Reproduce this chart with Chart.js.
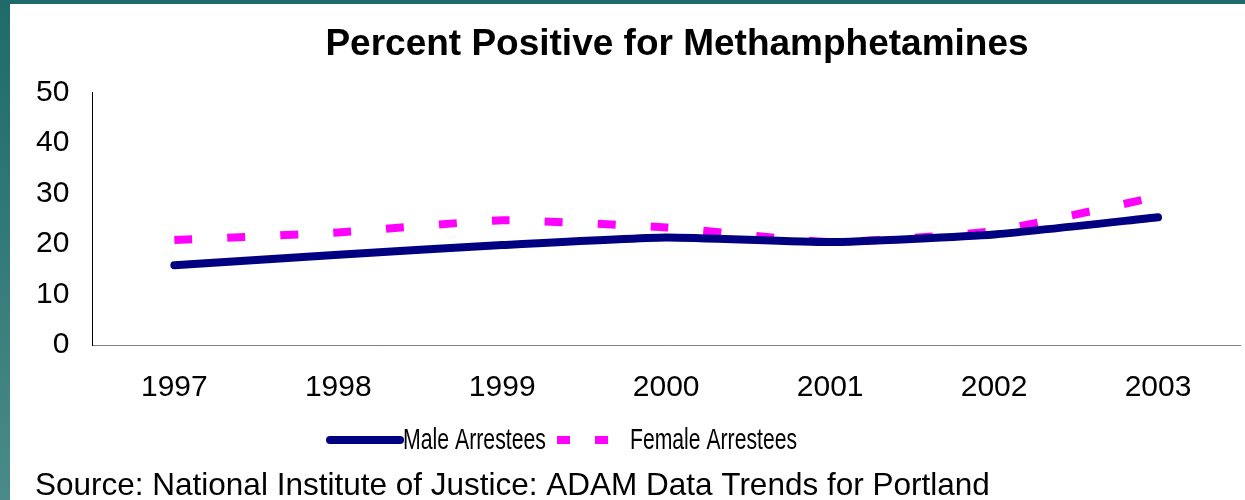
<!DOCTYPE html>
<html>
<head>
<meta charset="utf-8">
<script src="https://cdn.jsdelivr.net/npm/chart.js@4.4.0/dist/chart.umd.min.js"></script>
<style>
  html, body { margin: 0; padding: 0; }
  body {
    width: 1245px; height: 500px; overflow: hidden;
    background: linear-gradient(to bottom, #1f6a6a, #4a8a8a);
  }
  #box {
    position: absolute; left: 10px; top: 4px;
    width: 1235px; height: 496px; background: #fff;
  }
</style>
</head>
<body>
<div id="box"><canvas id="chart"></canvas></div>
<script>
const years = ['1997', '1998', '1999', '2000', '2001', '2002', '2003'];
const maleValues = [15.8, 17.9, 19.8, 21.3, 20.4, 21.9, 25.3];
const femaleValues = [20.8, 22.3, 24.7, 23.3, 20.4, 22.6, 29.4];
const yTicks = [0, 10, 20, 30, 40, 50];

const FONT = '"Liberation Sans", Arial, sans-serif';

// legend drawn by hand: the original uses a squeezed font for it
const squeezedLegend = {
  id: 'squeezedLegend',
  afterLayout(chart) {
    // the heading sits a bit right of the canvas centre in the original
    const tb = chart.titleBlock;
    tb.left = 2 * 667 - tb.right;
    tb.width = tb.right - tb.left;
  },
  afterDraw(chart) {
    const c = chart.ctx;
    const y = 436;
    const items = [
      { ds: chart.data.datasets[0], x0: 320, x1: 390, tx: 393, tw: 143 },
      { ds: chart.data.datasets[1], x0: 547, x1: 617, tx: 620, tw: 167 }
    ];
    c.save();
    items.forEach(it => {
      c.beginPath();
      c.strokeStyle = it.ds.borderColor;
      c.lineWidth = 8;
      c.lineCap = it.ds.borderCapStyle;
      c.setLineDash(it.ds.borderDash ? [13, 25] : []);
      c.moveTo(it.x0, y);
      c.lineTo(it.x1, y);
      c.stroke();
      c.setLineDash([]);
      c.fillStyle = '#000';
      c.font = '30px ' + FONT;
      c.textAlign = 'left';
      c.textBaseline = 'middle';
      c.fillText(it.ds.label, it.tx, y + 1, it.tw);
    });
    c.restore();
  }
};

const ctx = document.getElementById('chart');
new Chart(ctx, {
  type: 'line',
  data: {
    labels: years,
    datasets: [
      {
        label: 'Male Arrestees',
        data: maleValues,
        borderColor: '#000080',
        backgroundColor: '#000080',
        borderWidth: 8,
        borderCapStyle: 'round',
        pointRadius: 0,
        tension: 0.15,
        fill: false
      },
      {
        label: 'Female Arrestees',
        data: femaleValues,
        borderColor: '#ff00ff',
        backgroundColor: '#ff00ff',
        borderWidth: 8,
        borderDash: [18, 35],
        borderCapStyle: 'butt',
        pointRadius: 0,
        tension: 0.15,
        fill: false
      }
    ]
  },
  options: {
    responsive: true,
    maintainAspectRatio: false,
    animation: false,
    layout: { padding: { left: 25, right: 5, top: 0, bottom: 0 } },
    scales: {
      x: {
        offset: true,
        grid: { display: false, drawTicks: false },
        border: { display: true, color: '#808080', width: 1 },
        ticks: { color: '#000', font: { family: FONT, size: 30 }, padding: 25, maxRotation: 0 }
      },
      y: {
        min: 0,
        max: 50,
        afterBuildTicks: (axis) => { axis.ticks = yTicks.map(v => ({ value: v })); },
        afterFit: (axis) => { axis.width -= 22; },
        grid: { display: false, drawTicks: false },
        border: { display: true, color: '#000', width: 1 },
        ticks: { color: '#000', font: { family: FONT, size: 30 }, padding: 23 }
      }
    },
    plugins: {
      title: {
        display: true,
        text: 'Percent Positive for Methamphetamines',
        color: '#000',
        font: { family: FONT, size: 37, weight: 'bold' },
        padding: { top: 19, bottom: 25 }
      },
      subtitle: {
        display: true,
        position: 'bottom',
        align: 'start',
        text: 'Source: National Institute of Justice: ADAM Data Trends for Portland',
        color: '#000',
        font: { family: FONT, size: 31.5, lineHeight: 0.85 },
        padding: { top: 42, bottom: 0 }
      },
      legend: { display: false },
      tooltip: { enabled: false }
    }
  },
  plugins: [squeezedLegend]
});
</script>
</body>
</html>
